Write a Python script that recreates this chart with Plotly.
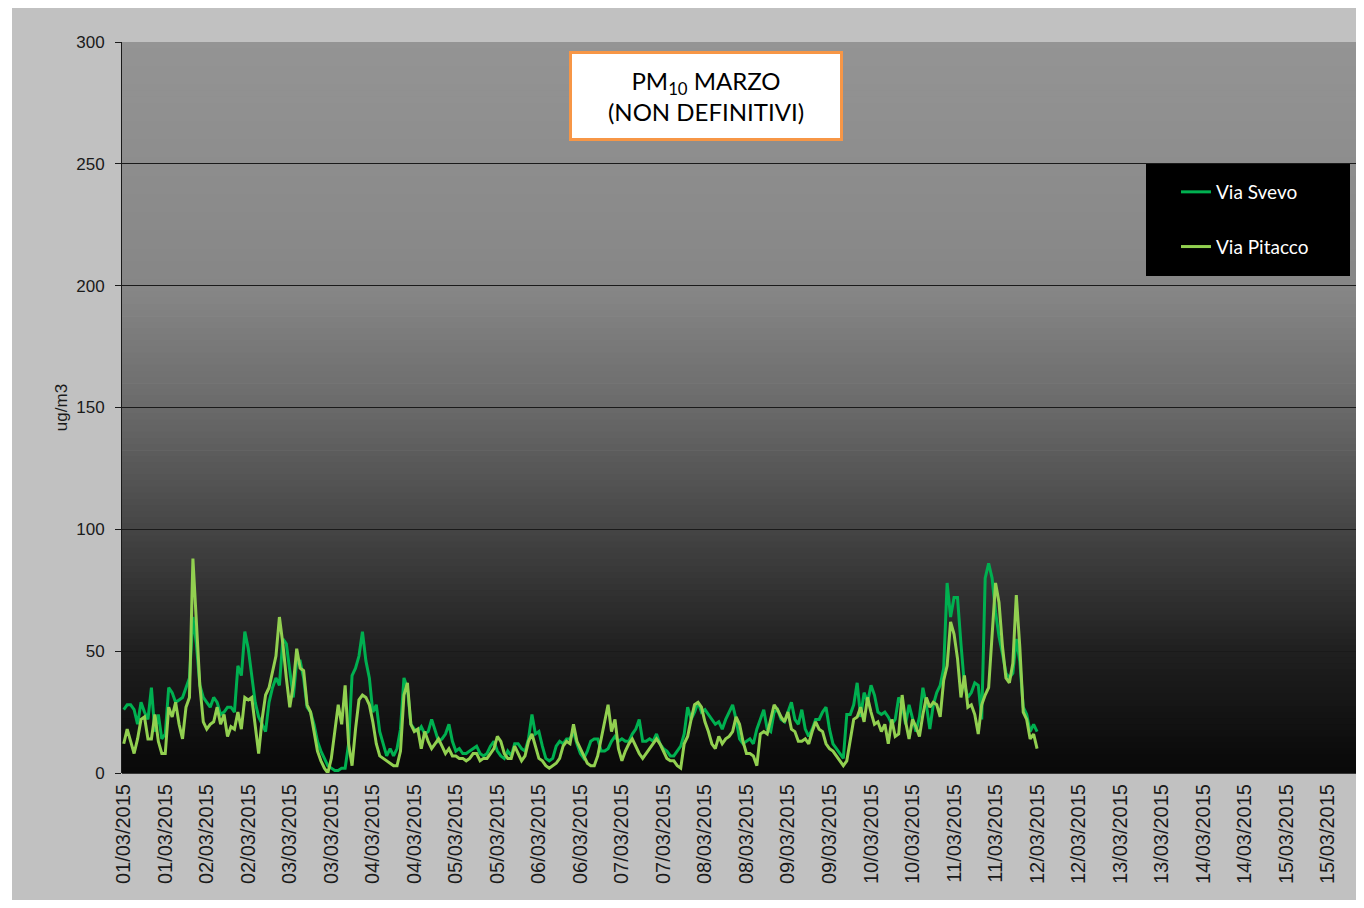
import pandas as pd
import plotly.graph_objects as go

# PM10 orario, marzo 2015 (dati non definitivi), ug/m3
via_svevo = [
    26, 28, 28, 26, 20, 29, 25, 22, 35, 17, 24, 14, 16, 35, 33, 29, 30, 31, 35, 39, 64, 53, 36, 31,
    29, 27, 31, 29, 24, 25, 27, 27, 25, 44, 40, 58, 51, 39, 29, 23, 20, 17, 29, 35, 39, 36, 55, 53,
    42, 31, 46, 46, 39, 27, 25, 20, 13, 9, 6, 3, 2, 1, 1, 2, 2, 12, 40, 43, 48, 58, 46, 39,
    25, 28, 17, 12, 7, 10, 7, 10, 18, 39, 35, 20, 18, 17, 19, 16, 17, 22, 17, 13, 14, 16, 20, 13,
    9, 10, 8, 8, 9, 10, 11, 8, 7, 8, 11, 13, 9, 7, 6, 9, 7, 12, 12, 10, 9, 14, 24, 16,
    17, 11, 6, 5, 6, 11, 13, 12, 14, 14, 17, 12, 8, 6, 9, 13, 14, 14, 9, 9, 10, 13, 15, 13,
    14, 13, 13, 16, 18, 22, 13, 13, 14, 13, 16, 12, 10, 9, 7, 7, 9, 11, 16, 27, 22, 25, 29, 25,
    26, 24, 22, 20, 21, 18, 22, 25, 28, 22, 14, 12, 13, 14, 12, 18, 22, 26, 18, 17, 25, 26, 22, 21,
    25, 29, 22, 20, 26, 18, 15, 18, 22, 22, 25, 27, 18, 12, 10, 8, 6, 24, 24, 28, 37, 23, 33, 29,
    36, 32, 25, 24, 25, 23, 20, 22, 31, 28, 20, 28, 23, 17, 23, 35, 28, 18, 28, 33, 36, 43, 78, 64,
    72, 72, 53, 36, 31, 33, 37, 36, 22, 80, 86, 80, 66, 56, 49, 41, 39, 41, 55, 46, 27, 24, 17, 20,
    17,
]
via_pitacco = [
    12, 18, 13, 8, 14, 22, 23, 14, 14, 24, 13, 8, 8, 27, 23, 29, 20, 14, 27, 31, 88, 59, 36, 21,
    18, 20, 21, 27, 20, 24, 15, 19, 18, 25, 18, 31, 30, 31, 20, 8, 22, 32, 35, 42, 48, 64, 53, 39,
    27, 36, 51, 43, 42, 28, 25, 17, 9, 5, 2, 0, 6, 17, 28, 20, 36, 12, 3, 18, 30, 32, 31, 28,
    21, 12, 7, 6, 5, 4, 3, 3, 9, 32, 37, 20, 17, 18, 10, 17, 13, 10, 12, 14, 11, 8, 10, 7,
    7, 6, 6, 5, 6, 8, 8, 5, 6, 6, 8, 10, 15, 13, 8, 6, 6, 11, 8, 5, 7, 13, 16, 11,
    6, 5, 3, 2, 3, 4, 6, 11, 13, 12, 20, 13, 10, 7, 4, 3, 3, 7, 14, 20, 28, 17, 22, 10,
    5, 9, 12, 14, 11, 8, 6, 8, 10, 12, 14, 12, 9, 6, 5, 5, 3, 2, 12, 15, 22, 28, 29, 27,
    21, 17, 12, 10, 15, 12, 14, 15, 17, 23, 20, 13, 8, 8, 7, 3, 16, 17, 16, 22, 28, 26, 23, 21,
    25, 18, 17, 13, 13, 14, 12, 17, 21, 18, 17, 12, 10, 9, 7, 5, 3, 5, 14, 22, 23, 27, 21, 31,
    25, 20, 21, 17, 20, 12, 22, 15, 16, 32, 21, 14, 22, 19, 15, 24, 31, 27, 29, 28, 23, 38, 44, 62,
    57, 47, 31, 40, 27, 28, 24, 16, 28, 32, 35, 55, 78, 70, 52, 39, 37, 45, 73, 52, 25, 22, 14, 16,
    10,
]
ore = pd.date_range("2015-03-01 00:00", periods=len(via_svevo), freq="h")

# la pagina ha 8px di margine: la figura parte da (8, 8)
OFF = 8
W, H = 1356, 892
L, R, T, B = 114, 0, 34, 127
pw, ph = W - L - R, H - T - B


def px_x(x):
    # x in pixel della pagina -> coordinate paper
    return (x - OFF - L) / pw


def px_y(y):
    return (H - B - (y - OFF)) / ph


fig = go.Figure()
fig.add_trace(go.Scatter(x=ore, y=via_svevo, name="Via Svevo", mode="lines",
                         line=dict(color="#00B050", width=3), legendgroup="a"))
fig.add_trace(go.Scatter(x=ore, y=via_pitacco, name="Via Pitacco", mode="lines",
                         line=dict(color="#92D050", width=3), legendgroup="b"))

# sfondo sfumato dell'area del grafico (grigio in alto -> nero in basso)
stops = [(0.0, 148), (0.34, 134), (0.5, 106), (0.68, 66), (0.83, 32), (1.0, 8)]


def grigio(f):
    for (f0, c0), (f1, c1) in zip(stops[:-1], stops[1:]):
        if f0 <= f <= f1:
            return c0 + (c1 - c0) * (f - f0) / (f1 - f0)
    return stops[-1][1]


n = 120
shapes = []
for k in range(n):
    c = int(round(grigio((k + 0.5) / n)))
    shapes.append(dict(type="rect", xref="paper", yref="paper", x0=0, x1=1,
                       y0=1 - (k + 1) / n - 0.001, y1=1 - k / n,
                       fillcolor=f"rgb({c},{c},{c})", line_width=0, layer="below"))

# bordo bianco a sinistra
shapes.append(dict(type="rect", xref="paper", yref="paper", x0=px_x(OFF), x1=px_x(12),
                   y0=px_y(OFF + H), y1=px_y(OFF), fillcolor="white", line_width=0,
                   layer="below"))

# riquadro legenda
shapes.append(dict(type="rect", xref="paper", yref="paper", x0=px_x(1146), x1=px_x(1350),
                   y0=px_y(276), y1=px_y(164), fillcolor="black", line_width=0, layer="above"))

fig.update_layout(
    width=W, height=H,
    margin=dict(l=L, r=R, t=T, b=B),
    paper_bgcolor="#c1c1c1",
    plot_bgcolor="rgba(0,0,0,0)",
    shapes=shapes,
    font=dict(family="Arial, Liberation Sans, sans-serif", color="#1a1a1a"),
    showlegend=True,
    legend=dict(x=px_x(1176), y=px_y(173), xanchor="left", yanchor="top",
                bgcolor="rgba(0,0,0,0)", font=dict(family="Lato, Open Sans, sans-serif",
                                                   size=19, color="white"),
                tracegroupgap=27, itemwidth=30),
    annotations=[dict(
        text="PM<sub>10</sub> MARZO<br>(NON DEFINITIVI)",
        xref="paper", yref="paper", x=px_x(706), y=px_y(96),
        xanchor="center", yanchor="middle", showarrow=False,
        font=dict(family="Lato, Open Sans, sans-serif", size=24, color="black"),
        bgcolor="white", bordercolor="#F79646", borderwidth=3, borderpad=0,
        width=268, height=84,
    )],
    hovermode=False,
)

fig.update_yaxes(range=[0, 300], dtick=50, showgrid=True, gridcolor="#1a1a1a", gridwidth=1,
                 showline=True, linecolor="#1a1a1a", linewidth=1,
                 ticks="outside", ticklen=6, tickcolor="#1a1a1a", ticklabelstandoff=7,
                 tickfont=dict(size=17), zeroline=False,
                 title=dict(text="ug/m3", font=dict(size=17), standoff=4))
fig.update_xaxes(type="date",
                 range=[ore[0] - pd.Timedelta(minutes=30), ore[0] + pd.Timedelta(hours=358.5)],
                 tick0=ore[0], dtick=12 * 3600 * 1000, tickformat="%d/%m/%Y",
                 tickangle=-90, tickfont=dict(size=20), showgrid=False,
                 showline=False, ticks="", ticklabelstandoff=6, zeroline=False)

fig.write_html("out.html")
